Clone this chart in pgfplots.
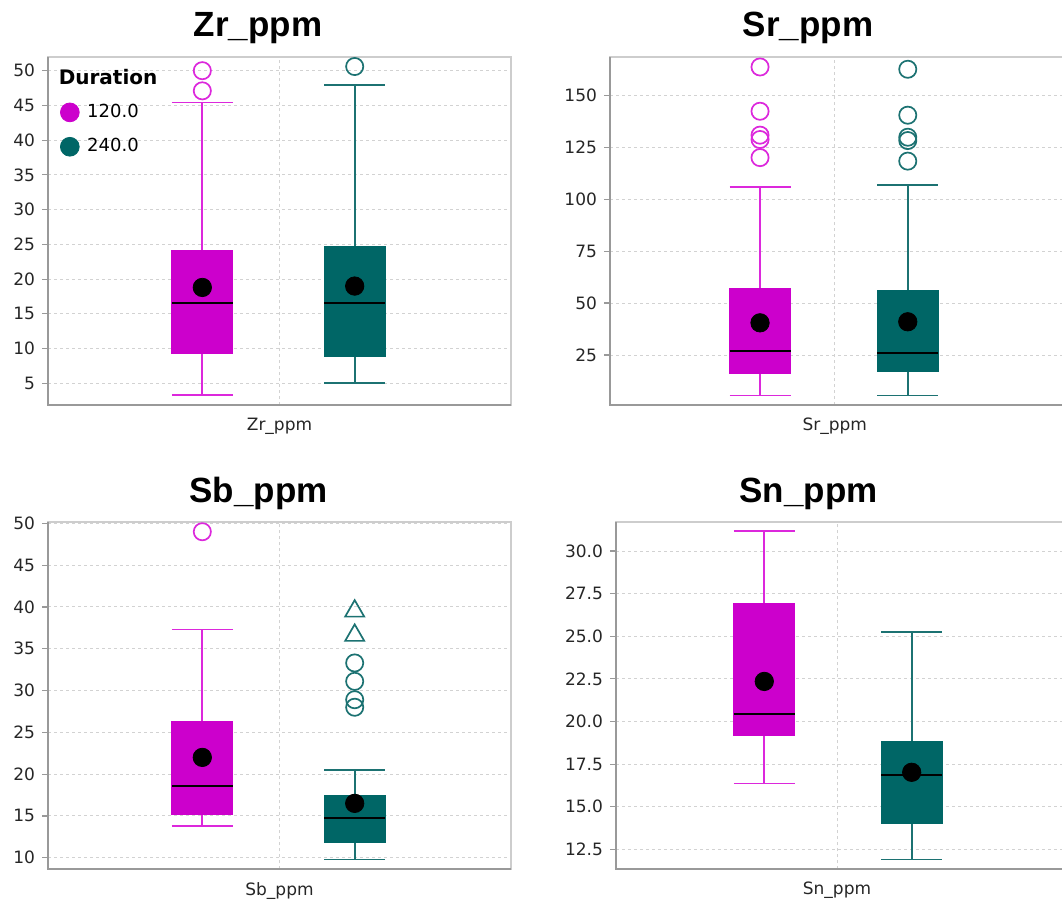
\documentclass[border=0pt]{standalone}
\usepackage{fontspec}
\setmainfont{DejaVu Sans}
\newfontfamily\titlefont{Liberation Sans}
\usepackage{pgfplots}
\pgfplotsset{compat=1.18}

\definecolor{magfill}{HTML}{CC00CC}
\definecolor{magline}{HTML}{DC28DC}
\definecolor{tealfill}{HTML}{006666}
\definecolor{tealline}{HTML}{1C7272}
\definecolor{gridgray}{HTML}{D2D2D2}
\definecolor{framedark}{HTML}{999999}
\definecolor{framelight}{HTML}{CDCDCD}

\tikzset{darkframe/.style={framedark, line width=1pt}}

\pgfplotsset{
  panel/.style={
    scale only axis,
    anchor=north west,
    xmin=0, xmax=1,
    xtick={0.5},
    xtick pos=bottom,
    ytick pos=left,
    x tick style={draw=none},
    y tick style={framedark, line width=0.6pt},
    tick align=outside,
    major tick length=3pt,
    xmajorgrids, ymajorgrids,
    major grid style={gridgray, dash pattern=on 1.5pt off 1.5pt, line width=0.5pt},
    axis line style={framelight, line width=1pt},
    yticklabel style={font=\fontsize{8.5}{10}\selectfont, text=black!85},
    xticklabel style={font=\fontsize{8.5}{10}\selectfont, text=black!85},
    /pgf/number format/assume math mode=true,
    unbounded coords=jump,
    clip=false,
  },
  magwhisk/.style={forget plot, magline, line width=0.85pt, mark=none},
  tealwhisk/.style={forget plot, tealline, line width=0.85pt, mark=none},
  magboxfill/.style={forget plot, fill=magfill, draw=magfill, line width=0.5pt, mark=none},
  tealboxfill/.style={forget plot, fill=tealfill, draw=tealfill, line width=0.5pt, mark=none},
  medline/.style={forget plot, black, line width=1pt, mark=none},
  meanpt/.style={forget plot, only marks, mark=*, mark size=4.6pt, black},
  magout/.style={forget plot, only marks, mark=o, mark size=4.3pt, magline, mark options={line width=0.85pt}},
  tealout/.style={forget plot, only marks, mark=o, mark size=4.3pt, tealline, mark options={line width=0.85pt}},
  tealext/.style={forget plot, only marks, mark=triangle, mark size=5.5pt, tealline, mark options={line width=0.85pt}},
}

\begin{document}
\begin{tikzpicture}
\useasboundingbox (0,0) rectangle (531pt,-452pt);

% ---------------- Zr_ppm ----------------
\node[anchor=base, font=\titlefont\bfseries\fontsize{17.5}{20}\selectfont] at (129pt,-18.35pt) {Zr\_ppm};
\begin{axis}[panel, at={(24pt,-28.5pt)}, width=231.5pt, height=174pt,
  ymin=1.88, ymax=51.97, ytick={5,10,...,50},
  xticklabels={Zr\_ppm},
  legend style={draw=none, fill=none, at={(rel axis cs:0.026,0.877)}, anchor=north west,
    font=\fontsize{9}{11}\selectfont, row sep=5pt, column sep=2pt, inner sep=0pt},
  legend image code/.code={\draw[#1] plot coordinates {(0pt,0pt)};},
]
% 120.0: whiskers, box, median
\addplot[magwhisk] coordinates {(0.3333,24.1) (0.3333,45.4) (nan,nan) (0.2673,45.4) (0.3993,45.4) (nan,nan)
  (0.3333,9.32) (0.3333,3.27) (nan,nan) (0.2673,3.27) (0.3993,3.27)};
\addplot[magboxfill] coordinates {(0.2673,9.32) (0.3993,9.32) (0.3993,24.1) (0.2673,24.1)} -- cycle;
\addplot[medline] coordinates {(0.2673,16.56) (0.3993,16.56)};
% 240.0
\addplot[tealwhisk] coordinates {(0.6624,24.7) (0.6624,47.9) (nan,nan) (0.5964,47.9) (0.7284,47.9) (nan,nan)
  (0.6624,8.93) (0.6624,5.0) (nan,nan) (0.5964,5.0) (0.7284,5.0)};
\addplot[tealboxfill] coordinates {(0.5964,8.93) (0.7284,8.93) (0.7284,24.7) (0.5964,24.7)} -- cycle;
\addplot[medline] coordinates {(0.5964,16.56) (0.7284,16.56)};
\addplot[meanpt] coordinates {(0.3333,18.8) (0.6624,19.0)};
\addplot[magout] coordinates {(0.3333,50.0) (0.3333,47.1)};
\addplot[tealout] coordinates {(0.6624,50.6)};
\draw[darkframe] (rel axis cs:0,1) -- (rel axis cs:0,0) -- (rel axis cs:1,0);
\addlegendimage{only marks, mark=*, mark size=4.7pt, magfill}
\addlegendentry{120.0}
\addlegendimage{only marks, mark=*, mark size=4.7pt, tealfill}
\addlegendentry{240.0}
\end{axis}
\node[anchor=base west, font=\bfseries\fontsize{10}{12}\selectfont] at (25.85pt,-42.5pt) {Duration};

% ---------------- Sr_ppm ----------------
\node[anchor=base, font=\titlefont\bfseries\fontsize{17.5}{20}\selectfont] at (404pt,-18.35pt) {Sr\_ppm};
\begin{axis}[panel, at={(305pt,-28.5pt)}, width=229.3pt, height=174pt,
  xmax=1.02,
  ymin=0.96, ymax=168.4, ytick={25,50,75,100,125,150},
  xticklabels={Sr\_ppm},
]
\addplot[magwhisk] coordinates {(0.3337,56.9) (0.3337,105.8) (nan,nan) (0.2659,105.8) (0.4016,105.8) (nan,nan)
  (0.3337,16.2) (0.3337,5.6) (nan,nan) (0.2659,5.6) (0.4016,5.6)};
\addplot[magboxfill] coordinates {(0.2659,16.2) (0.4016,16.2) (0.4016,56.9) (0.2659,56.9)} -- cycle;
\addplot[medline] coordinates {(0.2659,26.9) (0.4016,26.9)};
\addplot[tealwhisk] coordinates {(0.6623,55.9) (0.6623,106.9) (nan,nan) (0.5945,106.9) (0.7302,106.9) (nan,nan)
  (0.6623,17.0) (0.6623,5.6) (nan,nan) (0.5945,5.6) (0.7302,5.6)};
\addplot[tealboxfill] coordinates {(0.5945,17.0) (0.7302,17.0) (0.7302,55.9) (0.5945,55.9)} -- cycle;
\addplot[medline] coordinates {(0.5945,26.1) (0.7302,26.1)};
\addplot[meanpt] coordinates {(0.3337,40.5) (0.6623,41.0)};
\addplot[magout] coordinates {(0.3337,163.6) (0.3337,142.3) (0.3337,130.8) (0.3337,128.7) (0.3337,120.0)};
\addplot[tealout] coordinates {(0.6623,162.5) (0.6623,140.4) (0.6623,129.8) (0.6623,128.2) (0.6623,118.3)};
\draw[darkframe] (rel axis cs:0,1) -- (rel axis cs:0,0) -- (rel axis cs:1,0);
\end{axis}

% ---------------- Sb_ppm ----------------
\node[anchor=base, font=\titlefont\bfseries\fontsize{17.5}{20}\selectfont] at (129.3pt,-251.35pt) {Sb\_ppm};
\begin{axis}[panel, at={(24pt,-260.85pt)}, width=231.5pt, height=173.8pt,
  ymin=8.61, ymax=50.2, ytick={10,15,...,50},
  xticklabels={Sb\_ppm},
]
\addplot[magwhisk] coordinates {(0.3333,26.3) (0.3333,37.3) (nan,nan) (0.2673,37.3) (0.3993,37.3) (nan,nan)
  (0.3333,15.2) (0.3333,13.8) (nan,nan) (0.2673,13.8) (0.3993,13.8)};
\addplot[magboxfill] coordinates {(0.2673,15.2) (0.3993,15.2) (0.3993,26.3) (0.2673,26.3)} -- cycle;
\addplot[medline] coordinates {(0.2673,18.6) (0.3993,18.6)};
\addplot[tealwhisk] coordinates {(0.6624,17.5) (0.6624,20.5) (nan,nan) (0.5964,20.5) (0.7284,20.5) (nan,nan)
  (0.6624,11.8) (0.6624,9.8) (nan,nan) (0.5964,9.8) (0.7284,9.8)};
\addplot[tealboxfill] coordinates {(0.5964,11.8) (0.7284,11.8) (0.7284,17.5) (0.5964,17.5)} -- cycle;
\addplot[medline] coordinates {(0.5964,14.8) (0.7284,14.8)};
\addplot[meanpt] coordinates {(0.3333,22.0) (0.6624,16.5)};
\addplot[magout] coordinates {(0.3333,49.0)};
\addplot[tealout] coordinates {(0.6624,33.3) (0.6624,31.1) (0.6624,28.9) (0.6624,28.0)};
\addplot[tealext] coordinates {(0.6624,39.5) (0.6624,36.6)};
\draw[darkframe] (rel axis cs:0,1) -- (rel axis cs:0,0) -- (rel axis cs:1,0);
\end{axis}

% ---------------- Sn_ppm ----------------
\node[anchor=base, font=\titlefont\bfseries\fontsize{17.5}{20}\selectfont] at (404.25pt,-251.35pt) {Sn\_ppm};
\begin{axis}[panel, at={(308pt,-260.85pt)}, width=226.3pt, height=173.8pt,
  xmax=1.024,
  ymin=11.33, ymax=31.72, ytick={12.5,15,17.5,20,22.5,25,27.5,30},
  yticklabel style={/pgf/number format/.cd, fixed, fixed zerofill, precision=1},
  xticklabels={Sn\_ppm},
]
\addplot[magwhisk] coordinates {(0.3355,26.95) (0.3355,31.17) (nan,nan) (0.2665,31.17) (0.4045,31.17) (nan,nan)
  (0.3355,19.15) (0.3355,16.37) (nan,nan) (0.2665,16.37) (0.4045,16.37)};
\addplot[magboxfill] coordinates {(0.2665,19.15) (0.4045,19.15) (0.4045,26.95) (0.2665,26.95)} -- cycle;
\addplot[medline] coordinates {(0.2665,20.46) (0.4045,20.46)};
\addplot[tealwhisk] coordinates {(0.669,18.83) (0.669,25.27) (nan,nan) (0.6,25.27) (0.738,25.27) (nan,nan)
  (0.669,13.99) (0.669,11.91) (nan,nan) (0.6,11.91) (0.738,11.91)};
\addplot[tealboxfill] coordinates {(0.6,13.99) (0.738,13.99) (0.738,18.83) (0.6,18.83)} -- cycle;
\addplot[medline] coordinates {(0.6,16.84) (0.738,16.84)};
\addplot[meanpt] coordinates {(0.3355,22.35) (0.669,17.02)};
\draw[darkframe] (rel axis cs:0,1) -- (rel axis cs:0,0) -- (rel axis cs:1,0);
\end{axis}
\end{tikzpicture}
\end{document}
